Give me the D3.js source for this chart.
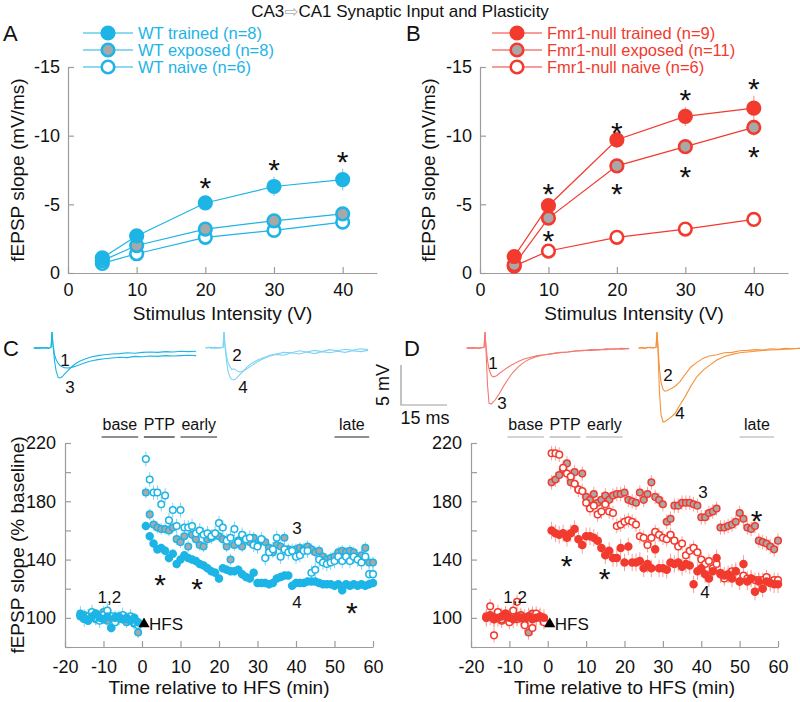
<!DOCTYPE html>
<html><head><meta charset="utf-8">
<script src="https://cdn.jsdelivr.net/npm/d3@7"></script>
<style>
body{margin:0;background:#fff}
svg text{font-family:Helvetica,"Liberation Sans",Arial,sans-serif;fill:#111}
</style></head>
<body><svg id="chart" width="800" height="702"></svg>
<script>
// ---------------- DATA ----------------
const intensities = [5, 10, 20, 30, 40];
const ioTicks = [0, 10, 20, 30, 40];
const ioYTicks = [0, -5, -10, -15];

const wtTrained = [-1.1, -2.7, -5.1, -6.3, -6.8];
const wtExposed = [-0.9, -2.0, -3.2, -3.8, -4.3];
const wtNaive   = [-0.7, -1.4, -2.6, -3.1, -3.7];
const wtTrainedSem = [0.2, 0.3, 0.4, 0.7, 0.8];
const wtExposedSem = [0.1, 0.2, 0.3, 0.3, 0.4];
const wtNaiveSem   = [0.1, 0.2, 0.2, 0.3, 0.3];

const koTrained = [-1.2, -4.9, -9.7, -11.4, -12.0];
const koExposed = [-0.6, -4.0, -7.8, -9.2, -10.6];
const koNaive   = [-0.5, -1.6, -2.6, -3.2, -3.9];
const koTrainedSem = [0.2, 0.5, 0.6, 0.7, 0.9];
const koExposedSem = [0.1, 0.4, 0.5, 0.5, 0.6];
const koNaiveSem   = [0.1, 0.2, 0.2, 0.3, 0.3];

const wtLabels = ["WT trained (n=8)", "WT exposed (n=8)", "WT naive (n=6)"];
const koLabels = ["Fmr1-null trained (n=9)", "Fmr1-null exposed (n=11)", "Fmr1-null naive (n=6)"];

const sigA = [[20, -6.8], [30, -8.1], [40, -8.7]];
const sigB = [[10, -6.3], [10, -2.9], [20, -10.8], [20, -6.3], [30, -13.2], [30, -7.6], [40, -14.0], [40, -9.0]];

// time course (min relative to HFS)
const tcTimes = [-16,-15,-14,-13,-12,-11,-10,-9,-8,-7,-6,-5,-4,-3,-2,-1,
  1,2,3,4,5,6,7,8,9,10,11,12,13,14,15,16,17,18,19,20,21,22,23,24,25,26,27,28,29,30,
  31,32,33,34,35,36,37,38,39,40,41,42,43,44,45,46,47,48,49,50,51,52,53,54,55,56,57,58,59,60];
const tcXTicks = [-20,-10,0,10,20,30,40,50,60];
const tcYTicks = [80,100,120,140,160,180,200,220];
const tcYLabels = [100,140,180,220];

const cTrained = [102,100,98,101,103,100,99,101,93,100,101,99,100,98,100,97,
  163,156,151,147,148,146,141,144,137,140,143,141,140,139,137,136,134,132,131,127,
  134,133,132,132,133,130,128,127,131,124,124,124,123,124,127,128,129,129,122,124,
  124,124,125,125,125,124,123,123,123,122,123,119,123,122,123,122,123,122,123,124];
const cExposed = [101,102,100,103,99,101,104,98,100,101,99,100,97,99,96,90,
  186,171,164,162,161,161,160,162,154,152,156,149,157,154,150,149,154,155,157,156,
  154,149,140,150,153,149,154,152,155,150,153,152,148,145,150,149,155,147,146,147,
  148,147,149,147,145,146,142,140,141,142,145,146,145,146,145,141,143,148,138,138];
const cNaive = [103,99,101,104,100,98,102,105,101,97,100,102,99,101,97,95,
  209,195,186,186,178,184,167,174,163,174,162,162,163,158,160,157,158,156,158,165,
  162,153,155,161,152,157,154,155,150,149,154,141,145,147,155,142,147,145,146,142,
  143,146,146,131,133,140,138,137,138,139,142,139,142,139,142,140,138,142,130,130];

const dTrained = [100,101,99,100,101,102,100,99,101,100,100,101,99,100,101,100,
  160,158,157,158,155,158,161,154,150,156,156,155,153,148,143,146,141,141,148,138,
  149,138,138,139,134,137,134,147,134,134,133,138,137,138,135,137,136,123,132,134,
  130,127,132,141,130,129,130,127,132,125,137,125,127,118,125,120,125,124,123,123];
const dExposed = [100,102,99,101,98,103,100,101,99,102,99,90,103,100,101,99,
  193,195,198,202,206,193,200,188,199,183,181,185,179,181,184,181,184,185,185,186,
  181,180,179,186,181,185,193,183,181,178,166,168,177,177,179,179,179,178,177,169,
  169,172,173,175,162,162,163,164,166,172,168,162,161,163,153,152,151,149,147,153];
const dNaive = [101,108,88,104,99,103,97,105,111,100,95,101,93,103,100,97,
  213,213,212,203,199,197,192,188,187,179,175,177,171,173,178,173,172,163,164,166,
  167,166,164,156,155,150,155,159,157,155,154,157,153,149,151,143,146,148,145,140,
  137,139,134,137,131,127,129,132,132,125,129,127,127,126,126,126,128,124,126,126];

const phaseNames = ["base", "PTP", "early", "late"];
const phaseStart = [-10.5, 0.5, 10, 50];
const phaseEnd   = [-1, 8.5, 19.5, 59];

// example traces (ms, mV)
const trT = [0,1,2,3,4,5,5.7,6,6.3,6.8,7.3,8,8.6,9.3,10,11,12,13.5,15,17,19,21,23,25.5,28,30.5,33,35.5,38,40.5,43,45.5,48,50.5,53];
const trC1 = [0,0.05,-0.05,0.05,0,-0.05,0.1,2.0,0.6,-0.8,-1.4,-1.9,-2.2,-2.35,-2.45,-2.5,-2.45,-2.3,-2.1,-1.8,-1.6,-1.45,-1.35,-1.25,-1.15,-1.2,-1.05,-1.1,-1.0,-1.05,-0.95,-1.0,-0.95,-0.9,-0.95];
const trC3 = [0,-0.05,0.05,0,0.05,0,0.1,2.0,0.4,-1.5,-2.8,-3.7,-3.75,-3.6,-3.3,-2.9,-2.5,-2.0,-1.65,-1.35,-1.1,-0.95,-0.85,-0.75,-0.7,-0.6,-0.65,-0.55,-0.5,-0.55,-0.45,-0.5,-0.4,-0.45,-0.4];
const trC2 = [0,0.1,-0.05,0.1,0,0.05,0.1,2.0,0.5,-1.0,-1.8,-2.4,-2.7,-2.6,-2.8,-3.0,-2.9,-2.6,-2.2,-1.7,-1.3,-1.0,-0.8,-0.9,-0.6,-0.75,-0.5,-0.7,-0.45,-0.6,-0.4,-0.55,-0.35,-0.45,-0.3];
const trC4 = [0,0.05,0.1,-0.05,0.05,0,0.1,2.0,0.3,-1.6,-2.9,-3.7,-3.95,-4.0,-3.8,-3.4,-3.0,-2.4,-1.9,-1.5,-1.2,-0.9,-0.75,-0.55,-0.6,-0.35,-0.5,-0.3,-0.45,-0.2,-0.35,-0.15,-0.3,-0.1,-0.2];
const trD1 = [0,0.05,-0.05,0.05,0,0.05,0.1,2.0,0.4,-1.5,-2.6,-3.4,-3.6,-3.55,-3.4,-3.1,-2.8,-2.4,-2.05,-1.65,-1.35,-1.15,-0.95,-0.85,-0.7,-0.6,-0.5,-0.35,-0.35,-0.2,-0.25,-0.1,-0.15,-0.05,-0.1];
const trD3 = [0,-0.05,0.05,0,-0.05,0.05,0.1,2.0,0.0,-4.5,-6.9,-7.0,-6.8,-6.5,-6.1,-5.5,-4.8,-3.9,-3.1,-2.3,-1.7,-1.3,-1.05,-0.85,-0.7,-0.55,-0.5,-0.4,-0.3,-0.3,-0.2,-0.2,-0.1,-0.15,-0.05];
const trD2 = [0,0.05,0,0.1,0,0.05,0.1,2.0,0.2,-2.5,-4.3,-5.2,-5.4,-5.35,-5.2,-5.0,-4.75,-4.2,-3.4,-2.4,-1.8,-1.3,-1.0,-0.85,-0.6,-0.55,-0.35,-0.3,-0.2,-0.25,-0.1,-0.15,-0.05,-0.1,0];
const trD4 = [0,0.05,-0.05,0.05,0.1,0,0.1,2.0,0.0,-5.5,-8.3,-9.25,-9.2,-9.0,-8.8,-8.5,-8.1,-7.1,-6.2,-4.8,-3.6,-2.8,-2.2,-1.5,-1.05,-0.8,-0.6,-0.5,-0.4,-0.3,-0.25,-0.2,-0.15,-0.1,-0.05];

// ---------------- STYLE ----------------
const CYAN = "#1db4e6", CYAN2 = "#7fd3f2", RED = "#f23a2e", RED2 = "#f27a70", ORANGE = "#f5943c";
const GRAY = "#a8a8a8", AXIS = "#9c9c9c";
const svg = d3.select("#chart");

const fmt = d => String(d).replace("\u2212", "-");

function styleAxis(g, fs) {
  g.attr("font-family", null).attr("font-size", null);
  g.select(".domain").attr("stroke", AXIS).attr("stroke-width", 1.2);
  g.selectAll(".tick line").attr("stroke", AXIS).attr("stroke-width", 1.2);
  g.selectAll(".tick text").attr("font-size", fs).attr("fill", "#111");
}

// title
const title = svg.append("text").attr("x", 400).attr("y", 17).attr("text-anchor", "middle").attr("font-size", 17);
title.append("tspan").text("CA3");
title.append("tspan").attr("fill", "#b0b0b0").style("fill", "#b0b0b0").attr("font-family", "DejaVu Sans").attr("font-size", 17).text("\u21E8");
title.append("tspan").text("CA1 Synaptic Input and Plasticity");

function marker(sel, kind, color, r, sw) {
  sel.attr("r", r)
    .attr("fill", kind === "trained" ? color : kind === "exposed" ? GRAY : "#fff")
    .attr("stroke", color).attr("stroke-width", sw);
}

function asterisk(x, y) {
  svg.append("text").attr("x", x).attr("y", y).attr("dy", "0.6em")
    .attr("text-anchor", "middle").attr("font-size", 30).attr("fill", "#222").text("*");
}

// ---------------- IO panels ----------------
function ioPanel(opt) {
  const x = d3.scaleLinear().domain([0, 45]).range([opt.x0, opt.x1]);
  const y = d3.scaleLinear().domain([0, -15]).range([273, 67]);
  const gx = svg.append("g").attr("transform", "translate(0,273)")
    .call(d3.axisBottom(x).tickValues(ioTicks).tickSizeInner(-6).tickSizeOuter(0).tickPadding(10).tickFormat(fmt));
  styleAxis(gx, 18);
  const gy = svg.append("g").attr("transform", `translate(${opt.x0},0)`)
    .call(d3.axisLeft(y).tickValues(ioYTicks).tickSizeInner(-6).tickSizeOuter(0).tickPadding(8).tickFormat(fmt));
  styleAxis(gy, 18);

  svg.append("text").attr("x", (opt.x0 + opt.x1) / 2).attr("y", 320).attr("text-anchor", "middle")
    .attr("font-size", 19).text("Stimulus Intensity (V)");
  svg.append("text").attr("transform", `translate(${opt.yTitleX},170) rotate(-90)`).attr("text-anchor", "middle")
    .attr("font-size", 19).text("fEPSP slope (mV/ms)");
  svg.append("text").attr("x", opt.letterX).attr("y", 41).attr("font-size", 22).text(opt.letter);

  const line = d3.line().x((d, i) => x(intensities[i])).y(d => y(d));
  const order = [2, 1, 0];
  order.forEach(k => {
    const vals = opt.series[k], sem = opt.sems[k];
    svg.append("path").attr("d", line(vals)).attr("fill", "none").attr("stroke", opt.color).attr("stroke-width", 1.2);
    svg.append("g").selectAll("line").data(vals).join("line")
      .attr("x1", (d, i) => x(intensities[i])).attr("x2", (d, i) => x(intensities[i]))
      .attr("y1", (d, i) => y(d - sem[i])).attr("y2", (d, i) => y(d + sem[i]))
      .attr("stroke", opt.light).attr("stroke-width", 1.2);
  });
  order.forEach(k => {
    svg.append("g").selectAll("circle").data(opt.series[k]).join("circle")
      .attr("cx", (d, i) => x(intensities[i])).attr("cy", d => y(d))
      .call(marker, ["trained", "exposed", "naive"][k], opt.color, 6.3, 2.6);
  });
  opt.sig.forEach(s => asterisk(x(s[0]), y(s[1])));

  // legend
  opt.labels.forEach((lab, k) => {
    const ly = 33 + k * 17;
    svg.append("line").attr("x1", opt.lx).attr("x2", opt.lx + 50).attr("y1", ly).attr("y2", ly)
      .attr("stroke", opt.color).attr("stroke-width", 1.2);
    svg.append("circle").attr("cx", opt.lx + 25).attr("cy", ly)
      .call(marker, ["trained", "exposed", "naive"][k], opt.color, 6.3, 2.6);
    svg.append("text").attr("x", opt.lx + 55).attr("y", ly + 5.5).attr("font-size", 16.5)
      .attr("fill", opt.color).style("fill", opt.color).text(lab);
  });
}

ioPanel({x0: 68, x1: 377, series: [wtTrained, wtExposed, wtNaive], sems: [wtTrainedSem, wtExposedSem, wtNaiveSem],
  color: CYAN, light: CYAN2, labels: wtLabels, lx: 83, sig: sigA, letter: "A", letterX: 3, yTitleX: 24});
ioPanel({x0: 480, x1: 788, series: [koTrained, koExposed, koNaive], sems: [koTrainedSem, koExposedSem, koNaiveSem],
  color: RED, light: "#f8a09a", labels: koLabels, lx: 492, sig: sigB, letter: "B", letterX: 406, yTitleX: 435});

// ---------------- traces ----------------
const tv = d3.scaleLinear().domain([0, -5]).range([348, 388]);
function trace(x0, vals, color) {
  const tx = d3.scaleLinear().domain([0, 15]).range([x0, x0 + 46]);
  svg.append("path").attr("d", d3.line().x((d, i) => tx(trT[i])).y(d => tv(d))(vals))
    .attr("fill", "none").attr("stroke", color).attr("stroke-width", 1.1);
}
trace(33.6, trC1, CYAN); trace(33.6, trC3, CYAN);
trace(205.6, trC2, CYAN2); trace(205.6, trC4, CYAN2);
trace(466.6, trD1, RED2); trace(466.6, trD3, RED2);
trace(638.6, trD2, ORANGE); trace(638.6, trD4, ORANGE);

const trLabels = [["1", 65, 366], ["3", 70, 393], ["2", 237, 361], ["4", 243, 393],
  ["1", 493, 369], ["3", 502, 409], ["2", 668, 381], ["4", 680, 419]];
trLabels.forEach(l => svg.append("text").attr("x", l[1]).attr("y", l[2]).attr("text-anchor", "middle").attr("font-size", 17).text(l[0]));

// scale bar
svg.append("path").attr("d", "M401,365V405H447").attr("fill", "none").attr("stroke", AXIS).attr("stroke-width", 1.2);
svg.append("text").attr("transform", "translate(389,385) rotate(-90)").attr("text-anchor", "middle").attr("font-size", 18).text("5 mV");
svg.append("text").attr("x", 425).attr("y", 424).attr("text-anchor", "middle").attr("font-size", 18).text("15 ms");
svg.append("text").attr("x", 3).attr("y", 356).attr("font-size", 22).text("C");
svg.append("text").attr("x", 404).attr("y", 356).attr("font-size", 22).text("D");

// ---------------- time course panels ----------------
function tcPanel(opt) {
  const x = d3.scaleLinear().domain([-20, 60]).range([opt.x0, opt.x1]);
  const y = d3.scaleLinear().domain([80, 220]).range([647, 443]);
  const gx = svg.append("g").attr("transform", "translate(0,647)")
    .call(d3.axisBottom(x).tickValues(tcXTicks).tickSizeInner(-6).tickSizeOuter(0).tickPadding(13).tickFormat(fmt));
  styleAxis(gx, 18);
  const gy = svg.append("g").attr("transform", `translate(${opt.x0},0)`)
    .call(d3.axisLeft(y).tickValues(tcYTicks).tickSizeInner(-6).tickSizeOuter(0).tickPadding(9)
      .tickFormat(d => tcYLabels.includes(d) ? fmt(d) : ""));
  styleAxis(gy, 18);
  svg.append("text").attr("x", (opt.x0 + opt.x1) / 2).attr("y", 694).attr("text-anchor", "middle")
    .attr("font-size", 19).text("Time relative to HFS (min)");
  if (opt.yTitle) svg.append("text").attr("transform", "translate(24,545) rotate(-90)")
    .attr("text-anchor", "middle").attr("font-size", 19).text("fEPSP slope (% baseline)");

  // phases
  phaseNames.forEach((p, i) => {
    const a = x(phaseStart[i]), b = x(phaseEnd[i]);
    svg.append("text").attr("x", (a + b) / 2).attr("y", 430).attr("text-anchor", "middle").attr("font-size", 16).text(p);
    svg.append("line").attr("x1", a).attr("x2", b).attr("y1", 437).attr("y2", 437)
      .attr("stroke", opt.phaseColor).attr("stroke-width", 1.2);
  });

  const kinds = ["trained", "exposed", "naive"];
  [1, 2, 0].forEach(k => {
    const vals = opt.series[k], e = opt.sem[k];
    svg.append("g").selectAll("line").data(vals).join("line")
      .attr("x1", (d, i) => x(tcTimes[i])).attr("x2", (d, i) => x(tcTimes[i]))
      .attr("y1", d => y(d - e)).attr("y2", d => y(d + e))
      .attr("stroke", opt.light).attr("stroke-width", 1);
  });
  [1, 2, 0].forEach(k => {
    svg.append("g").selectAll("circle").data(opt.series[k]).join("circle")
      .attr("cx", (d, i) => x(tcTimes[i])).attr("cy", d => y(d))
      .call(marker, kinds[k], opt.color, k === 0 ? 3.5 : 3.3, 1.5);
  });

  // HFS
  svg.append("path").attr("d", d3.symbol(d3.symbolTriangle, 55)()).attr("transform", `translate(${x(0) + 2},624)`).attr("fill", "#000");
  svg.append("text").attr("x", x(0) + 7).attr("y", 630).attr("font-size", 17).text("HFS");
  svg.append("text").attr("x", x(-8.5)).attr("y", 603).attr("text-anchor", "middle").attr("font-size", 17).text("1,2");
  svg.append("text").attr("x", opt.lab3[0]).attr("y", opt.lab3[1]).attr("text-anchor", "middle").attr("font-size", 17).text("3");
  svg.append("text").attr("x", opt.lab4[0]).attr("y", opt.lab4[1]).attr("text-anchor", "middle").attr("font-size", 17).text("4");
  opt.sig.forEach(s => asterisk(x(s[0]), y(s[1])));
}

tcPanel({x0: 65, x1: 373, series: [cTrained, cExposed, cNaive], sem: [3, 4, 5], color: CYAN, light: CYAN2,
  yTitle: true, phaseColor: "#222", lab3: [297, 534], lab4: [297, 608], sig: [[4.7, 128], [14.3, 125], [54.5, 109]]});
tcPanel({x0: 471, x1: 778, series: [dTrained, dExposed, dNaive], sem: [6, 5, 5], color: RED, light: "#f8a09a",
  yTitle: false, phaseColor: "#aaa", lab3: [703, 498], lab4: [705, 598], sig: [[4.9, 141], [14.8, 132], [54.4, 172]]});
</script></body></html>
